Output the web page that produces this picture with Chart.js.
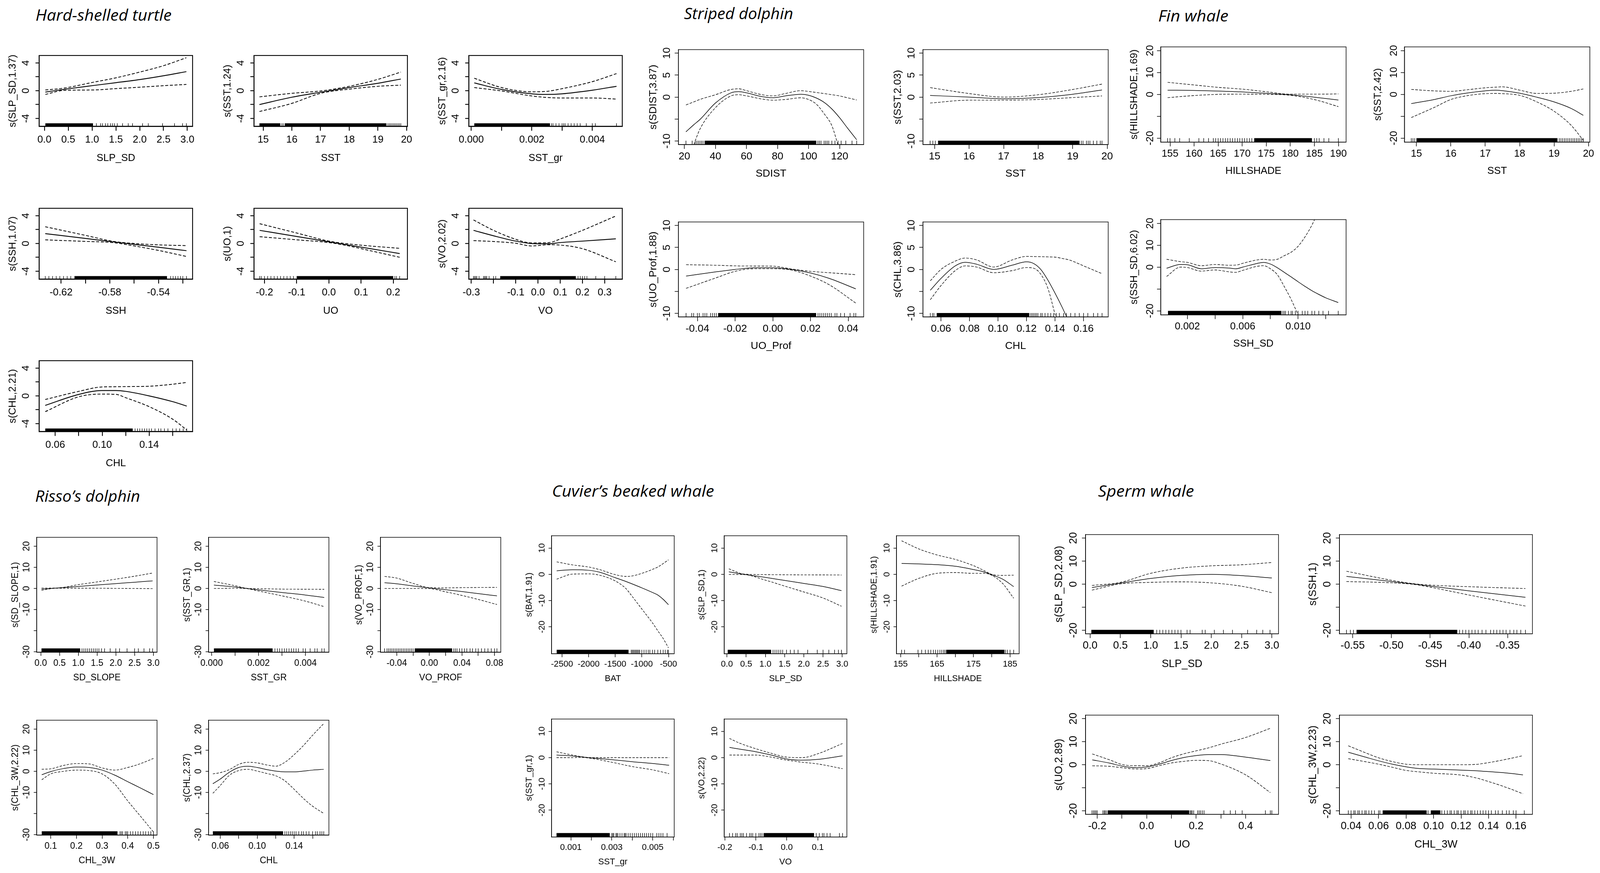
<!DOCTYPE html>
<html lang="en">
<head>
  <meta charset="UTF-8" />
  <title>GAM smooth terms by species</title>
  <script src="https://cdn.jsdelivr.net/npm/chart.js"></script>
  <style>
    html, body { margin: 0; padding: 0; background: #fff; overflow: hidden; }
    #page { position: relative; background: #fff; overflow: hidden; }
    .sp { position: absolute; font-family: "Open Sans", Lato, sans-serif; font-style: italic; line-height: 1; color: #000; white-space: nowrap; transform-origin: 0 0; }
    canvas { position: absolute; }
  </style>
</head>
<body>
<div id="page"></div>
<script>
// ---------- y tick values / labels per species group ----------
const yTicksTurtle = [-4, -2, 0, 2, 4],            yLabsTurtle = ['-4', '', '0', '', '4'];
const yTicksStriped = [-10, -5, 0, 5, 10],         yLabsStriped = ['-10', '', '0', '5', '10'];
const yTicksFin = [-20, -10, 0, 10, 20],           yLabsFin = ['-20', '', '0', '10', '20'];
const yTicksRisso = [-30, -20, -10, 0, 10, 20],    yLabsRisso = ['-30', '', '-10', '0', '10', '20'];
const yTicksCuvier = [-20, -10, 0, 10],            yLabsCuvier = ['-20', '-10', '0', '10'];
const yTicksSperm = [-20, -10, 0, 10, 20],         yLabsSperm = ['-20', '', '0', '10', '20'];

// ---------- x tick values / labels ----------
const xtSlp = [0, 0.5, 1, 1.5, 2, 2.5, 3],  xlSlp = ['0.0', '0.5', '1.0', '1.5', '2.0', '2.5', '3.0'];
const xtSst = [15, 16, 17, 18, 19, 20],     xlSst = ['15', '16', '17', '18', '19', '20'];
const xtTSstGr = [0, 0.001, 0.002, 0.003, 0.004], xlTSstGr = ['0.000', '', '0.002', '', '0.004'];
const xtTSsh = [-0.62, -0.60, -0.58, -0.56, -0.54, -0.52], xlTSsh = ['-0.62', '', '-0.58', '', '-0.54', ''];
const xtTUo = [-0.2, -0.1, 0, 0.1, 0.2],    xlTUo = ['-0.2', '-0.1', '0.0', '0.1', '0.2'];
const xtTVo = [-0.3, -0.2, -0.1, 0, 0.1, 0.2, 0.3], xlTVo = ['-0.3', '', '-0.1', '0.0', '0.1', '0.2', '0.3'];
const xtChlAlt = [0.06, 0.08, 0.10, 0.12, 0.14, 0.16], xlChlAlt = ['0.06', '', '0.10', '', '0.14', ''];
const xtSdist = [20, 40, 60, 80, 100, 120], xlSdist = ['20', '40', '60', '80', '100', '120'];
const xtUoProf = [-0.04, -0.02, 0, 0.02, 0.04], xlUoProf = ['-0.04', '-0.02', '0.00', '0.02', '0.04'];
const xtDChl = [0.06, 0.08, 0.10, 0.12, 0.14, 0.16], xlDChl = ['0.06', '0.08', '0.10', '0.12', '0.14', '0.16'];
const xtFHill = [155, 160, 165, 170, 175, 180, 185, 190], xlFHill = ['155', '160', '165', '170', '175', '180', '185', '190'];
const xtSshSd = [0.002, 0.004, 0.006, 0.008, 0.010, 0.012], xlSshSd = ['0.002', '', '0.006', '', '0.010', ''];
const xtRVoProf = [-0.04, -0.02, 0, 0.02, 0.04, 0.06, 0.08], xlRVoProf = ['-0.04', '', '0.00', '', '0.04', '', '0.08'];
const xtChl3w = [0.1, 0.2, 0.3, 0.4, 0.5],  xlChl3w = ['0.1', '0.2', '0.3', '0.4', '0.5'];
const xtBat = [-2500, -2000, -1500, -1000, -500], xlBat = ['-2500', '-2000', '-1500', '-1000', '-500'];
const xtCHill = [155, 160, 165, 170, 175, 180, 185], xlCHill = ['155', '', '165', '', '175', '', '185'];
const xtCSstGr = [0.001, 0.002, 0.003, 0.004, 0.005, 0.006], xlCSstGr = ['0.001', '', '0.003', '', '0.005', ''];
const xtCVo = [-0.2, -0.1, 0, 0.1],         xlCVo = ['-0.2', '-0.1', '0.0', '0.1'];
const xtSSsh = [-0.55, -0.50, -0.45, -0.40, -0.35], xlSSsh = ['-0.55', '-0.50', '-0.45', '-0.40', '-0.35'];
const xtSUo = [-0.2, -0.1, 0, 0.1, 0.2, 0.3, 0.4], xlSUo = ['-0.2', '', '0.0', '', '0.2', '', '0.4'];
const xtSChl3w = [0.04, 0.06, 0.08, 0.10, 0.12, 0.14, 0.16], xlSChl3w = ['0.04', '0.06', '0.08', '0.10', '0.12', '0.14', '0.16'];

// ---------- Hard-shelled turtle ----------
const tSlpX = [0.02, 0.42, 1.0, 1.5, 2.0, 2.5, 2.98];
const tSlpFit = [-0.2, 0.2, 0.72, 1.15, 1.6, 2.15, 2.75];
const tSlpHi = [0.1, 0.38, 1.18, 1.85, 2.68, 3.6, 4.75];
const tSlpLo = [-0.54, 0.05, 0.1, 0.3, 0.5, 0.72, 0.9];
const tSlpBand = [[0.02, 1.02]];
const tSlpRug = [1.09, 1.18, 1.22, 1.28, 1.33, 1.39, 1.43, 1.47, 1.53, 1.64, 1.76, 1.85, 2.06, 2.18, 2.48, 2.73, 2.9, 2.98];

const tSstX = [14.87, 16, 17, 18, 19, 19.8];
const tSstFit = [-2.0, -0.94, -0.22, 0.45, 1.07, 1.68];
const tSstHi = [-0.89, -0.38, -0.04, 0.63, 1.63, 2.68];
const tSstLo = [-3.0, -1.83, -0.38, 0.22, 0.63, 0.8];
const tSstBand = [[14.87, 15.6], [15.75, 19.3]];
const tSstRug = [15.65, 15.7, 19.35, 19.4, 19.45, 19.5, 19.55, 19.6, 19.65, 19.7, 19.75, 19.8];

const tSstGrX = [0.0001, 0.001, 0.002, 0.0025, 0.003, 0.004, 0.0048];
const tSstGrFit = [1.12, 0.18, -0.45, -0.54, -0.45, 0.07, 0.63];
const tSstGrHi = [1.79, 0.45, -0.16, -0.09, 0.29, 1.3, 2.46];
const tSstGrLo = [0.45, -0.04, -0.76, -0.98, -1.05, -1.05, -1.21];
const tSstGrBand = [[0.0001, 0.0026]];
const tSstGrRug = [0.00265, 0.0027, 0.0028, 0.0029, 0.003, 0.00305, 0.0031, 0.0032, 0.0033, 0.0034, 0.0035, 0.0036, 0.0038, 0.004, 0.0041, 0.0048];

const tSshX = [-0.633, -0.60, -0.577, -0.56, -0.54, -0.517];
const tSshFit = [1.42, 0.73, 0.23, -0.13, -0.54, -1.04];
const tSshHi = [2.41, 1.17, 0.30, 0.0, -0.2, -0.31];
const tSshLo = [0.52, 0.30, 0.12, -0.35, -1.0, -1.87];
const tSshBand = [[-0.609, -0.533]];
const tSshRug = [-0.633, -0.63, -0.627, -0.624, -0.621, -0.618, -0.615, -0.612, -0.53, -0.528, -0.526, -0.524, -0.522, -0.52, -0.517];

const tUoX = [-0.215, -0.1, 0.0, 0.05, 0.12, 0.22];
const tUoFit = [1.89, 1.01, 0.24, -0.14, -0.68, -1.45];
const tUoHi = [2.85, 1.51, 0.34, 0.0, -0.33, -0.7];
const tUoLo = [0.98, 0.53, 0.13, -0.25, -0.95, -1.99];
const tUoBand = [[-0.1, 0.2]];
const tUoRug = [-0.215, -0.21, -0.2, -0.19, -0.18, -0.17, -0.16, -0.15, -0.14, -0.13, -0.12, -0.11, 0.205, 0.21, 0.22];

const tVoX = [-0.29, -0.2, -0.1, -0.03, 0.05, 0.1, 0.2, 0.35];
const tVoFit = [1.89, 1.11, 0.34, 0.0, -0.05, 0.13, 0.34, 0.67];
const tVoHi = [3.39, 1.89, 0.6, 0.08, 0.13, 0.65, 1.89, 3.96];
const tVoLo = [0.41, 0.28, 0.03, -0.36, -0.18, -0.23, -0.75, -2.64];
const tVoBand = [[-0.17, 0.17]];
const tVoRug = [-0.29, -0.285, -0.28, -0.275, -0.265, -0.245, -0.24, -0.235, -0.23, -0.22, -0.2, -0.19, 0.18, 0.19, 0.2, 0.21, 0.22, 0.26, 0.3, 0.35];

const tChlX = [0.0515, 0.08, 0.10, 0.112, 0.12, 0.14, 0.16, 0.172];
const tChlFit = [-1.37, 0.21, 0.77, 0.77, 0.65, 0.0, -0.83, -1.47];
const tChlHi = [-0.52, 0.65, 1.29, 1.32, 1.34, 1.39, 1.68, 1.94];
const tChlLo = [-2.27, -0.13, 0.26, 0.21, -0.26, -1.55, -3.35, -4.9];
const tChlBand = [[0.0515, 0.126]];
const tChlRug = [0.128, 0.13, 0.132, 0.134, 0.136, 0.138, 0.14, 0.142, 0.145, 0.148, 0.15, 0.153, 0.156, 0.16, 0.163, 0.166, 0.169, 0.172];

// ---------- Striped dolphin ----------
const dSdistX = [21, 26, 30, 40, 50, 55, 60, 70, 77, 85, 95, 100, 105, 110, 115, 120, 125, 131];
const dSdistFit = [-7.9, -6.3, -5.1, -1.35, 0.97, 1.24, 0.97, 0.11, -0.16, 0.27, 0.65, 0.43, -0.2, -1.19, -2.7, -4.69, -7.0, -9.7];
const dSdistHi = [-1.78, -1.1, -0.54, 0.54, 1.73, 1.89, 1.46, 0.54, 0.27, 0.81, 1.46, 1.29, 1.05, 0.81, 0.55, 0.27, -0.15, -0.65];
const dSdistLo = [-16, -10.9, -7.3, -2.4, 0.27, 0.54, 0.27, -0.43, -0.7, -0.54, -0.16, -0.54, -1.6, -3.77, -6.5, -12.0, -16, -21];
const dSdistBand = [[33, 105]];
const dSdistRug = [21, 25, 27, 28, 29, 30, 31, 32, 106, 107, 108, 110, 111, 112, 113, 115, 117, 119, 121, 124, 128, 131];

const dSstX = [14.87, 16, 17, 18, 19, 19.85];
const dSstFit = [0.38, 0.0, -0.38, -0.11, 0.65, 1.62];
const dSstHi = [2.16, 0.81, 0.0, 0.54, 1.73, 2.96];
const dSstLo = [-1.35, -0.7, -0.7, -0.54, -0.11, 0.27];
const dSstBand = [[15.1, 19.2]];
const dSstRug = [14.87, 14.95, 15.02, 19.25, 19.3, 19.4, 19.45, 19.5, 19.6, 19.7, 19.8, 19.85];

const dUoProfX = [-0.046, -0.03, -0.02, -0.01, 0.0, 0.01, 0.02, 0.03, 0.044];
const dUoProfFit = [-1.51, -0.54, 0.0, 0.38, 0.38, 0.0, -0.81, -2.05, -4.42];
const dUoProfHi = [1.08, 0.95, 0.81, 0.78, 0.75, 0.1, -0.43, -0.75, -1.19];
const dUoProfLo = [-4.31, -1.89, -0.43, 0.16, 0.16, -0.15, -1.51, -3.5, -7.65];
const dUoProfBand = [[-0.029, 0.023]];
const dUoProfRug = [-0.046, -0.043, -0.042, -0.04, -0.039, -0.037, -0.036, -0.035, -0.033, -0.032, -0.031, -0.03, 0.024, 0.025, 0.026, 0.027, 0.028, 0.029, 0.03, 0.031, 0.033, 0.034, 0.036, 0.038, 0.041, 0.043, 0.044];

const dChlX = [0.0525, 0.06, 0.07, 0.077, 0.085, 0.097, 0.11, 0.12, 0.125, 0.13, 0.135, 0.14, 0.145, 0.15, 0.16, 0.173];
const dChlFit = [-4.74, -2.05, 0.81, 1.62, 1.19, 0.0, 0.97, 1.73, 1.35, 0.0, -2.43, -5.39, -8.6, -12.1, -19, -28];
const dChlHi = [-2.59, 0.0, 1.89, 2.59, 2.16, 0.54, 2.16, 2.96, 2.93, 2.91, 2.85, 2.8, 2.5, 2.16, 0.81, -0.97];
const dChlLo = [-6.9, -3.67, -0.27, 0.81, 0.54, -0.75, -0.27, 0.43, 0.27, -1.08, -4.31, -10.2, -16, -22, -33, -45];
const dChlBand = [[0.057, 0.122]];
const dChlRug = [0.0525, 0.054, 0.055, 0.123, 0.124, 0.125, 0.126, 0.127, 0.128, 0.13, 0.131, 0.133, 0.135, 0.137, 0.139, 0.141, 0.143, 0.146, 0.148, 0.151, 0.154, 0.157, 0.16, 0.163, 0.167, 0.17, 0.173];

// ---------- Fin whale ----------
const fHillX = [154.5, 160, 165, 170, 175, 180, 185, 190];
const fHillFit = [1.94, 1.8, 1.5, 1.1, 0.5, -0.2, -1.3, -2.6];
const fHillHi = [5.5, 4.3, 3.2, 2.4, 1.2, 0.1, 0.1, 0.2];
const fHillLo = [-1.5, -0.54, 0.0, 0.1, 0.0, -0.43, -2.37, -5.6];
const fHillBand = [[172.5, 184.5]];
const fHillRug = [154.5, 155, 156, 157, 159, 161, 162, 163, 164, 164.5, 165, 165.5, 166, 166.5, 167, 167.5, 168, 168.5, 169, 169.5, 170, 170.5, 171, 171.5, 172, 185, 185.5, 186, 187, 188, 190];

const fSstX = [14.85, 15.5, 16, 16.5, 17, 17.3, 17.5, 18, 18.5, 19, 19.5, 19.85];
const fSstFit = [-4.2, -2.4, -0.65, 0.65, 1.6, 1.94, 1.7, 0.54, -1.29, -3.44, -6.45, -9.57];
const fSstHi = [2.26, 1.6, 1.4, 2.15, 3.0, 3.3, 3.44, 1.94, 0.43, 0.54, 1.4, 2.47];
const fSstLo = [-10.6, -6.1, -2.37, -0.54, 0.32, 0.4, 0.32, -0.43, -3.44, -7.7, -14.2, -21];
const fSstBand = [[15.0, 19.1]];
const fSstRug = [14.85, 14.9, 14.95, 19.15, 19.2, 19.25, 19.3, 19.35, 19.4, 19.45, 19.5, 19.55, 19.6, 19.65, 19.7, 19.75, 19.8, 19.85];

const fSshSdX = [0.0005, 0.0015, 0.002, 0.003, 0.004, 0.005, 0.0055, 0.006, 0.007, 0.0075, 0.008, 0.0085, 0.009, 0.0095, 0.010, 0.0105, 0.011, 0.0115, 0.012, 0.0129];
const fSshSdFit = [-0.54, 1.19, 1.08, -0.76, -0.22, -0.43, -0.76, 0.0, 1.62, 2.16, 1.4, -0.3, -2.37, -4.5, -6.7, -8.8, -10.8, -12.5, -14.05, -16.2];
const fSshSdHi = [3.57, 2.49, 2.16, 0.65, 1.19, 0.86, 0.9, 1.73, 3.24, 3.57, 3.24, 3.57, 5.2, 6.8, 9.5, 13.8, 19.2, 26, 33, 45];
const fSshSdLo = [-4.3, 0.0, -0.2, -1.84, -1.3, -2.16, -2.4, -1.5, 0.3, 0.65, -0.76, -3.46, -8.86, -14.8, -21.8, -29, -36, -43, -50, -60];
const fSshSdBand = [[0.0006, 0.0088]];
const fSshSdRug = [0.0089, 0.009, 0.0091, 0.0093, 0.0095, 0.0096, 0.0098, 0.01, 0.0103, 0.0105, 0.0107, 0.011, 0.0112, 0.0115, 0.0118, 0.0122, 0.0129];

// ---------- Risso's dolphin ----------
const rSdSlopeX = [0.02, 0.4, 1.0, 1.5, 2.0, 2.5, 2.98];
const rSdSlopeFit = [-0.35, 0.16, 0.96, 1.62, 2.29, 2.95, 3.6];
const rSdSlopeHi = [0.19, 0.2, 1.8, 3.1, 4.4, 5.8, 7.3];
const rSdSlopeLo = [-0.89, 0.12, 0.12, 0.1, 0.05, 0.0, -0.1];
const rSdSlopeBand = [[0.02, 1.05]];
const rSdSlopeRug = [1.1, 1.15, 1.2, 1.25, 1.3, 1.35, 1.4, 1.45, 1.5, 1.55, 1.62, 1.7, 1.85, 2.0, 2.1, 2.3, 2.5, 2.6, 2.75, 2.9, 2.98];

const rSstGrX = [0.0001, 0.001, 0.0015, 0.002, 0.003, 0.004, 0.0048];
const rSstGrFit = [1.6, 0.7, 0.0, -0.65, -1.9, -3.1, -4.27];
const rSstGrHi = [3.3, 1.3, 0.1, -0.1, -0.3, -0.35, -0.4];
const rSstGrLo = [0.0, 0.1, -0.1, -1.2, -3.5, -6.0, -8.6];
const rSstGrBand = [[0.0001, 0.0026]];
const rSstGrRug = [0.0027, 0.0028, 0.0029, 0.003, 0.0031, 0.0032, 0.0033, 0.0034, 0.0035, 0.0036, 0.0037, 0.0039, 0.004, 0.0042, 0.0044, 0.0045, 0.0047, 0.0048];

const rVoProfX = [-0.055, -0.04, -0.02, 0.0, 0.02, 0.04, 0.06, 0.083];
const rVoProfFit = [2.7, 2.2, 1.2, 0.25, -0.6, -1.46, -2.44, -3.5];
const rVoProfHi = [5.7, 4.9, 2.4, 0.4, 0.25, 0.4, 0.45, 0.5];
const rVoProfLo = [0.0, 0.0, 0.0, -0.1, -1.6, -3.3, -5.2, -7.6];
const rVoProfBand = [[-0.018, 0.028]];
const rVoProfRug = [-0.055, -0.052, -0.05, -0.048, -0.046, -0.044, -0.042, -0.04, -0.038, -0.036, -0.034, -0.032, -0.03, -0.028, -0.026, -0.024, -0.022, -0.02, 0.03, 0.032, 0.034, 0.037, 0.04, 0.043, 0.046, 0.05, 0.053, 0.057, 0.06, 0.064, 0.068, 0.072, 0.076, 0.08, 0.083];

const rChl3wX = [0.065, 0.1, 0.15, 0.2, 0.25, 0.3, 0.35, 0.4, 0.45, 0.5];
const rChl3wFit = [-1.6, -0.1, 1.34, 2.07, 1.83, 0.6, -1.83, -4.9, -7.9, -11];
const rChl3wHi = [1.0, 1.2, 2.8, 3.7, 3.5, 1.6, 0.6, 1.83, 3.66, 6.1];
const rChl3wLo = [-4.0, -1.2, 0.0, 0.6, 0.37, -1.2, -6.1, -14, -21.3, -28.7];
const rChl3wBand = [[0.065, 0.36]];
const rChl3wRug = [0.37, 0.375, 0.38, 0.39, 0.395, 0.4, 0.41, 0.42, 0.43, 0.44, 0.45, 0.46, 0.47, 0.48, 0.49, 0.5];

const rChlX = [0.052, 0.06, 0.07, 0.08, 0.09, 0.10, 0.11, 0.12, 0.13, 0.14, 0.15, 0.16, 0.172];
const rChlFit = [-5.85, -3.66, -0.37, 1.83, 2.44, 1.83, 0.85, 0.12, -0.24, -0.24, 0.12, 0.6, 0.97];
const rChlHi = [-1.2, -0.6, 0.85, 3.3, 4.3, 4.0, 3.05, 2.44, 4.3, 7.9, 12.2, 17.1, 22.6];
const rChlLo = [-10.4, -6.7, -1.83, 0.37, 0.97, 0.12, -0.97, -2.07, -4.5, -8.5, -12.8, -16.5, -19.9];
const rChlBand = [[0.052, 0.128]];
const rChlRug = [0.13, 0.132, 0.134, 0.136, 0.138, 0.14, 0.142, 0.145, 0.148, 0.15, 0.153, 0.156, 0.16, 0.163, 0.165, 0.168, 0.17, 0.172];

// ---------- Cuvier's beaked whale ----------
const cBatX = [-2600, -2300, -2000, -1800, -1500, -1300, -1200, -1000, -800, -700, -600, -500];
const cBatFit = [1.36, 1.75, 1.55, 0.87, -1.26, -2.7, -3.5, -5.15, -6.9, -7.86, -9.5, -11.55];
const cBatHi = [4.76, 3.6, 2.8, 1.84, -0.1, -0.78, -0.68, 0.39, 1.9, 2.8, 4.1, 5.53];
const cBatLo = [-1.84, 0.1, 0.19, -0.29, -2.5, -5.4, -7.9, -13.2, -18.5, -21.5, -24.4, -28];
const cBatBand = [[-2600, -1250]];
const cBatRug = [-1200, -1180, -1160, -1140, -1120, -1100, -1080, -1060, -1040, -1000, -960, -920, -880, -850, -800, -760, -700, -650, -600, -560, -520, -500];

const cSlpX = [0.05, 0.45, 1.0, 1.5, 2.0, 2.5, 2.98];
const cSlpFit = [0.97, 0.0, -1.15, -2.3, -3.45, -4.6, -6.2];
const cSlpHi = [2.1, 0.1, -0.1, -0.15, -0.2, -0.22, -0.25];
const cSlpLo = [-0.05, -0.1, -2.2, -4.45, -6.7, -9.0, -12.15];
const cSlpBand = [[0.02, 1.15]];
const cSlpRug = [1.2, 1.25, 1.3, 1.35, 1.4, 1.45, 1.55, 1.65, 1.75, 1.85, 2.1, 2.35, 2.5, 2.65, 2.8, 2.9, 2.98];

const cHillX = [155.3, 160, 165, 170, 175, 178, 180, 183, 186];
const cHillFit = [4.17, 3.98, 3.7, 3.1, 1.84, 0.87, -0.15, -1.84, -4.66];
const cHillHi = [12.8, 9.7, 7.4, 5.7, 3.3, 1.36, 0.0, -0.4, -0.3];
const cHillLo = [-4.47, -1.55, 0.39, 0.68, 0.39, 0.39, -0.35, -3.5, -9.1];
const cHillBand = [[167.5, 183.5]];
const cHillRug = [155.3, 156.1, 159.8, 160.8, 161.8, 162.6, 163.3, 164, 164.6, 165.2, 165.8, 166.3, 166.8, 167.2, 183.8, 184.3, 185, 186];

const cSstGrX = [0.0003, 0.001, 0.0015, 0.002, 0.003, 0.004, 0.005, 0.0058];
const cSstGrFit = [0.97, 0.68, 0.3, -0.1, -0.78, -1.55, -2.23, -2.9];
const cSstGrHi = [2.23, 1.1, 0.4, 0.0, 0.0, 0.0, 0.0, 0.0];
const cSstGrLo = [0.0, 0.0, 0.1, -0.3, -1.75, -3.4, -4.66, -6.1];
const cSstGrBand = [[0.0003, 0.0029]];
const cSstGrRug = [0.003, 0.00305, 0.0031, 0.0032, 0.00325, 0.0033, 0.0034, 0.0035, 0.0036, 0.00365, 0.0037, 0.0038, 0.0039, 0.004, 0.0041, 0.0042, 0.0043, 0.0044, 0.0045, 0.0046, 0.0047, 0.0048, 0.0049, 0.005, 0.0052, 0.0053, 0.0054, 0.0055, 0.0057];

const cVoX = [-0.185, -0.15, -0.1, -0.05, 0.0, 0.05, 0.1, 0.18];
const cVoFit = [3.9, 3.2, 2.23, 0.97, -0.5, -0.97, -0.68, 0.68];
const cVoHi = [7.3, 5.4, 3.4, 1.65, 0.19, 0.0, 1.46, 5.4];
const cVoLo = [0.97, 0.97, 0.97, 0.19, -0.97, -1.75, -2.4, -4.2];
const cVoBand = [[-0.075, 0.088]];
const cVoRug = [-0.185, -0.175, -0.165, -0.16, -0.15, -0.145, -0.14, -0.13, -0.12, -0.115, -0.11, -0.1, -0.09, -0.085, -0.08, 0.095, 0.105, 0.115, 0.12, 0.13, 0.14, 0.17, 0.18];

// ---------- Sperm whale ----------
const sSlpX = [0.03, 0.5, 1.0, 1.5, 2.0, 2.5, 3.0];
const sSlpFit = [-1.46, 0.45, 2.46, 3.8, 4.25, 3.7, 2.69];
const sSlpHi = [-0.56, 0.78, 4.7, 6.94, 7.95, 8.4, 9.4];
const sSlpLo = [-2.58, 0.11, 0.78, 1.0, 0.56, -0.9, -3.7];
const sSlpBand = [[0.02, 1.05]];
const sSlpRug = [1.1, 1.15, 1.2, 1.25, 1.3, 1.35, 1.4, 1.45, 1.5, 1.6, 1.65, 1.85, 1.9, 2.05, 2.2, 2.35, 2.6, 2.75, 2.85, 2.97];

const sSshX = [-0.558, -0.50, -0.47, -0.45, -0.40, -0.327];
const sSshFit = [3.36, 1.15, 0.0, -0.85, -2.9, -5.7];
const sSshHi = [5.6, 1.7, 0.15, -0.4, -1.1, -1.9];
const sSshLo = [1.12, 0.6, -0.15, -1.3, -4.7, -9.5];
const sSshBand = [[-0.545, -0.415]];
const sSshRug = [-0.558, -0.553, -0.549, -0.412, -0.408, -0.404, -0.4, -0.396, -0.392, -0.388, -0.383, -0.378, -0.372, -0.368, -0.364, -0.36, -0.356, -0.352, -0.347, -0.342, -0.338, -0.333, -0.327];

const sUoX = [-0.22, -0.15, -0.1, -0.04, 0.0, 0.05, 0.1, 0.15, 0.2, 0.25, 0.3, 0.4, 0.5];
const sUoFit = [2.1, 0.7, -0.6, -1.3, -1.0, 0.2, 1.8, 3.1, 3.95, 4.4, 4.4, 3.3, 1.8];
const sUoHi = [4.67, 2.1, 0.1, -0.45, -0.45, 0.8, 3.0, 4.7, 6.0, 7.3, 8.9, 11.8, 15.8];
const sUoLo = [-0.46, -0.7, -1.3, -1.88, -1.7, -0.45, 0.75, 1.45, 1.9, 1.75, 0.3, -4.4, -12.1];
const sUoBand = [[-0.158, 0.172]];
const sUoRug = [-0.221, -0.215, -0.21, -0.205, -0.2, -0.177, -0.172, -0.168, -0.163, 0.176, 0.18, 0.184, 0.19, 0.206, 0.212, 0.218, 0.225, 0.232, 0.312, 0.338, 0.359, 0.386, 0.48, 0.5, 0.506];

const sChl3wX = [0.038, 0.05, 0.06, 0.07, 0.08, 0.09, 0.10, 0.12, 0.13, 0.14, 0.155, 0.165];
const sChl3wFit = [5.4, 3.37, 1.69, 0.22, -0.9, -1.69, -1.9, -2.36, -2.6, -3.0, -3.7, -4.4];
const sChl3wHi = [8.2, 5.3, 3.0, 1.35, 0.22, 0.0, 0.0, 0.0, 0.1, 0.9, 2.6, 3.93];
const sChl3wLo = [2.6, 1.35, 0.22, -1.12, -2.47, -3.15, -3.7, -4.5, -5.6, -7.3, -10.3, -12.6];
const sChl3wBand = [[0.063, 0.095], [0.098, 0.105]];
const sChl3wRug = [0.038, 0.04, 0.042, 0.043, 0.045, 0.046, 0.048, 0.05, 0.051, 0.053, 0.055, 0.057, 0.06, 0.061, 0.096, 0.106, 0.108, 0.11, 0.112, 0.113, 0.115, 0.117, 0.118, 0.12, 0.122, 0.123, 0.125, 0.127, 0.128, 0.13, 0.132, 0.134, 0.136, 0.138, 0.14, 0.142, 0.145, 0.147, 0.15, 0.153, 0.155, 0.158, 0.16, 0.166];

// ---------- layout and style, in reference pixels (4834 x 2234) ----------
const groups = {
  turtle:  { w: 464, h: 182, yMin: -5.15, yMax: 5.07, yt: yTicksTurtle,  yl: yLabsTurtle,  tick: 28, title: 28, tl: 11, xLab: 34, xTit: 81, yLab: 39, yTit: 80, lw: 2.2, box: 2.2, dash: [9, 5], rug: 8 },
  striped: { w: 560, h: 243, yMin: -10.8, yMax: 10.8, yt: yTicksStriped, yl: yLabsStriped, tick: 29, title: 29, tl: 11, xLab: 31, xTit: 75, yLab: 34, yTit: 75, lw: 1.5, box: 1.5, dash: [8, 4], rug: 10 },
  fin:     { w: 560, h: 244, yMin: -21.8, yMax: 21.7, yt: yTicksFin,     yl: yLabsFin,     tick: 28, title: 28, tl: 11, xLab: 30, xTit: 74, yLab: 31, yTit: 80, lw: 1.5, box: 1.5, dash: [8, 4], rug: 10 },
  risso:   { w: 364, h: 294, yMin: -30.2, yMax: 24.2, yt: yTicksRisso,   yl: yLabsRisso,   tick: 25, title: 25, tl: 9,  xLab: 28, xTit: 65, yLab: 30, yTit: 64, lw: 1.5, box: 1.5, dash: [7, 4], rug: 10 },
  cuvier:  { w: 371, h: 302, yMin: -30.2, yMax: 14.7, yt: yTicksCuvier,  yl: yLabsCuvier,  tick: 24, title: 24, tl: 9,  xLab: 27, xTit: 64, yLab: 29, yTit: 67, lw: 1.5, box: 1.5, dash: [7, 4], rug: 10 },
  sperm:   { w: 583, h: 254, yMin: -21.5, yMax: 21.5, yt: yTicksSperm,   yl: yLabsSperm,   tick: 29.5, title: 29.5, tl: 11, xLab: 31, xTit: 78, yLab: 36, yTit: 80, lw: 1.5, box: 1.5, dash: [8, 4], rug: 10 }
};

const titles = [
  { text: 'Hard-shelled turtle', left: 107, capTop: 25, width: 411 },
  { text: 'Striped dolphin', left: 2067, capTop: 21, width: 330 },
  { text: 'Fin whale', left: 3499, capTop: 27, width: 212 },
  { text: 'Risso\u2019s dolphin', left: 106, capTop: 1256, width: 317 },
  { text: 'Cuvier\u2019s beaked whale', left: 1667, capTop: 1243, width: 490 },
  { text: 'Sperm whale', left: 3317, capTop: 1243, width: 290 }
];

const panels = [
  { g: 'turtle', left: 118, top: 142, xr: [-0.11, 3.11], xt: xtSlp, xl: xlSlp, xTitle: 'SLP_SD', yTitle: 's(SLP_SD,1.37)', x: tSlpX, fit: tSlpFit, hi: tSlpHi, lo: tSlpLo, band: tSlpBand, rug: tSlpRug },
  { g: 'turtle', left: 768, top: 142, xr: [14.68, 20.03], xt: xtSst, xl: xlSst, xTitle: 'SST', yTitle: 's(SST,1.24)', x: tSstX, fit: tSstFit, hi: tSstHi, lo: tSstLo, band: tSstBand, rug: tSstRug },
  { g: 'turtle', left: 1417, top: 142, xr: [-0.00008, 0.00499], xt: xtTSstGr, xl: xlTSstGr, xTitle: 'SST_gr', yTitle: 's(SST_gr,2.16)', x: tSstGrX, fit: tSstGrFit, hi: tSstGrHi, lo: tSstGrLo, band: tSstGrBand, rug: tSstGrRug },
  { g: 'turtle', left: 118, top: 533, xr: [-0.638, -0.512], xt: xtTSsh, xl: xlTSsh, xTitle: 'SSH', yTitle: 's(SSH,1.07)', x: tSshX, fit: tSshFit, hi: tSshHi, lo: tSshLo, band: tSshBand, rug: tSshRug },
  { g: 'turtle', left: 768, top: 533, xr: [-0.2325, 0.244], xt: xtTUo, xl: xlTUo, xTitle: 'UO', yTitle: 's(UO,1)', x: tUoX, fit: tUoFit, hi: tUoHi, lo: tUoLo, band: tUoBand, rug: tUoRug },
  { g: 'turtle', left: 1417, top: 533, xr: [-0.311, 0.379], xt: xtTVo, xl: xlTVo, xTitle: 'VO', yTitle: 's(VO,2.02)', x: tVoX, fit: tVoFit, hi: tVoHi, lo: tVoLo, band: tVoBand, rug: tVoRug },
  { g: 'turtle', left: 118, top: 923, xr: [0.0463, 0.177], xt: xtChlAlt, xl: xlChlAlt, xTitle: 'CHL', yTitle: 's(CHL,2.21)', x: tChlX, fit: tChlFit, hi: tChlHi, lo: tChlLo, band: tChlBand, rug: tChlRug },

  { g: 'striped', left: 2050, top: 127, xr: [16.1, 135.5], xt: xtSdist, xl: xlSdist, xTitle: 'SDIST', yTitle: 's(SDIST,3.87)', x: dSdistX, fit: dSdistFit, hi: dSdistHi, lo: dSdistLo, band: dSdistBand, rug: dSdistRug },
  { g: 'striped', left: 2788, top: 127, xr: [14.66, 20.03], xt: xtSst, xl: xlSst, xTitle: 'SST', yTitle: 's(SST,2.03)', x: dSstX, fit: dSstFit, hi: dSstHi, lo: dSstLo, band: dSstBand, rug: dSstRug },
  { g: 'striped', left: 2050, top: 568, xr: [-0.0501, 0.0482], xt: xtUoProf, xl: xlUoProf, xTitle: 'UO_Prof', yTitle: 's(UO_Prof,1.88)', x: dUoProfX, fit: dUoProfFit, hi: dUoProfHi, lo: dUoProfLo, band: dUoProfBand, rug: dUoProfRug },
  { g: 'striped', left: 2788, top: 568, xr: [0.0473, 0.1773], xt: xtDChl, xl: xlDChl, xTitle: 'CHL', yTitle: 's(CHL,3.86)', x: dChlX, fit: dChlFit, hi: dChlHi, lo: dChlLo, band: dChlBand, rug: dChlRug },

  { g: 'fin', left: 3507, top: 120, xr: [153.05, 191.6], xt: xtFHill, xl: xlFHill, xTitle: 'HILLSHADE', yTitle: 's(HILLSHADE,1.69)', x: fHillX, fit: fHillFit, hi: fHillHi, lo: fHillLo, band: fHillBand, rug: fHillRug },
  { g: 'fin', left: 4243, top: 120, xr: [14.65, 20.04], xt: xtSst, xl: xlSst, xTitle: 'SST', yTitle: 's(SST,2.42)', x: fSstX, fit: fSstFit, hi: fSstHi, lo: fSstLo, band: fSstBand, rug: fSstRug },
  { g: 'fin', left: 3507, top: 562, xr: [0.00007, 0.01347], xt: xtSshSd, xl: xlSshSd, xTitle: 'SSH_SD', yTitle: 's(SSH_SD,6.02)', x: fSshSdX, fit: fSshSdFit, hi: fSshSdHi, lo: fSshSdLo, band: fSshSdBand, rug: fSshSdRug },

  { g: 'risso', left: 111, top: 1375, xr: [-0.107, 3.098], xt: xtSlp, xl: xlSlp, xTitle: 'SD_SLOPE', yTitle: 's(SD_SLOPE,1)', x: rSdSlopeX, fit: rSdSlopeFit, hi: rSdSlopeHi, lo: rSdSlopeLo, band: rSdSlopeBand, rug: rSdSlopeRug },
  { g: 'risso', left: 630, top: 1375, xr: [-0.000127, 0.005], xt: xtTSstGr, xl: xlTSstGr, xTitle: 'SST_GR', yTitle: 's(SST_GR,1)', x: rSstGrX, fit: rSstGrFit, hi: rSstGrHi, lo: rSstGrLo, band: rSstGrBand, rug: rSstGrRug },
  { g: 'risso', left: 1150, top: 1375, xr: [-0.06, 0.0877], xt: xtRVoProf, xl: xlRVoProf, xTitle: 'VO_PROF', yTitle: 's(VO_PROF,1)', x: rVoProfX, fit: rVoProfFit, hi: rVoProfHi, lo: rVoProfLo, band: rVoProfBand, rug: rVoProfRug },
  { g: 'risso', left: 111, top: 1843, xr: [0.0455, 0.514], xt: xtChl3w, xl: xlChl3w, xTitle: 'CHL_3W', yTitle: 's(CHL_3W,2.22)', x: rChl3wX, fit: rChl3wFit, hi: rChl3wHi, lo: rChl3wLo, band: rChl3wBand, rug: rChl3wRug },
  { g: 'risso', left: 630, top: 1843, xr: [0.0474, 0.1776], xt: xtChlAlt, xl: xlChlAlt, xTitle: 'CHL', yTitle: 's(CHL,2.37)', x: rChlX, fit: rChlFit, hi: rChlHi, lo: rChlLo, band: rChlBand, rug: rChlRug },

  { g: 'cuvier', left: 1667, top: 1371, xr: [-2696, -392], xt: xtBat, xl: xlBat, xTitle: 'BAT', yTitle: 's(BAT,1.91)', x: cBatX, fit: cBatFit, hi: cBatHi, lo: cBatLo, band: cBatBand, rug: cBatRug },
  { g: 'cuvier', left: 2188, top: 1371, xr: [-0.07, 3.12], xt: xtSlp, xl: xlSlp, xTitle: 'SLP_SD', yTitle: 's(SLP_SD,1)', x: cSlpX, fit: cSlpFit, hi: cSlpHi, lo: cSlpLo, band: cSlpBand, rug: cSlpRug },
  { g: 'cuvier', left: 2708, top: 1371, xr: [153.9, 187.5], xt: xtCHill, xl: xlCHill, xTitle: 'HILLSHADE', yTitle: 's(HILLSHADE,1.91)', x: cHillX, fit: cHillFit, hi: cHillHi, lo: cHillLo, band: cHillBand, rug: cHillRug },
  { g: 'cuvier', left: 1667, top: 1840, xr: [0.000058, 0.00605], xt: xtCSstGr, xl: xlCSstGr, xTitle: 'SST_gr', yTitle: 's(SST_gr,1)', x: cSstGrX, fit: cSstGrFit, hi: cSstGrHi, lo: cSstGrLo, band: cSstGrBand, rug: cSstGrRug },
  { g: 'cuvier', left: 2188, top: 1840, xr: [-0.202, 0.194], xt: xtCVo, xl: xlCVo, xTitle: 'VO', yTitle: 's(VO,2.22)', x: cVoX, fit: cVoFit, hi: cVoHi, lo: cVoLo, band: cVoBand, rug: cVoRug },

  { g: 'sperm', left: 3280, top: 1368, xr: [-0.075, 3.11], xt: xtSlp, xl: xlSlp, xTitle: 'SLP_SD', yTitle: 's(SLP_SD,2.08)', x: sSlpX, fit: sSlpFit, hi: sSlpHi, lo: sSlpLo, band: sSlpBand, rug: sSlpRug },
  { g: 'sperm', left: 4047, top: 1368, xr: [-0.567, -0.318], xt: xtSSsh, xl: xlSSsh, xTitle: 'SSH', yTitle: 's(SSH,1)', x: sSshX, fit: sSshFit, hi: sSshHi, lo: sSshLo, band: sSshBand, rug: sSshRug },
  { g: 'sperm', left: 3280, top: 1830, xr: [-0.247, 0.533], xt: xtSUo, xl: xlSUo, xTitle: 'UO', yTitle: 's(UO,2.89)', x: sUoX, fit: sUoFit, hi: sUoHi, lo: sUoLo, band: sUoBand, rug: sUoRug },
  { g: 'sperm', left: 4047, top: 1830, xr: [0.0316, 0.1719], xt: xtSChl3w, xl: xlSChl3w, xTitle: 'CHL_3W', yTitle: 's(CHL_3W,2.23)', x: sChl3wX, fit: sChl3wFit, hi: sChl3wHi, lo: sChl3wLo, band: sChl3wBand, rug: sChl3wRug }
];

// ---------- drawing ----------
const FAM = '"Liberation Sans", Arial, sans-serif';
const REF_W = 4834, REF_H = 2234;
const page = document.getElementById('page');
// map reference pixels onto whatever the window really is
const SX = window.innerWidth / REF_W;
const SY = window.innerHeight / REF_H;
const SF = Math.sqrt(SX * SY);          // font scale
page.style.width = window.innerWidth + 'px';
page.style.height = window.innerHeight + 'px';

const measureCtx = document.createElement('canvas').getContext('2d');
const pts = (xs, ys) => xs.map((x, i) => ({ x: x, y: ys[i] }));
function bandPts(bands, y) {
  const out = [];
  bands.forEach(([a, b]) => { out.push({ x: a, y: y }, { x: b, y: y }, { x: b, y: null }); });
  return out;
}

// plot box, as R draws it
const boxPlugin = {
  id: 'box',
  afterDraw(chart, args, opts) {
    const { ctx, chartArea: a } = chart;
    ctx.save();
    ctx.strokeStyle = '#000';
    ctx.lineWidth = opts.width || 1.5;
    ctx.strokeRect(a.left, a.top, a.right - a.left, a.bottom - a.top);
    ctx.restore();
  }
};

// species headings (Open Sans italic: cap top ~0.174 em below the line box top)
titles.forEach(t => {
  const size = 40 * SY;
  const d = document.createElement('div');
  d.className = 'sp';
  d.textContent = t.text;
  d.style.fontSize = size + 'px';
  d.style.left = (t.left * SX) + 'px';
  d.style.top = (t.capTop * SY - 0.174 * size) + 'px';
  page.appendChild(d);
  const natural = d.getBoundingClientRect().width;
  d.style.transform = 'scaleX(' + (t.width * SX / natural) + ')';
});

function makePanel(p) {
  const g = groups[p.g];
  const fTick = g.tick * SF, fTitle = g.title * SF;
  const tlx = g.tl * SY, tly = g.tl * SX;
  const boxW = g.w * SX, boxH = g.h * SY;
  const yAxisW = g.yTit * SX + 0.6 * fTitle;
  const xAxisH = g.xTit * SY + 0.6 * fTitle;
  const padT = 50, padR = 60;
  const W = Math.round(yAxisW + boxW + padR);
  const H = Math.round(padT + boxH + xAxisH);

  const cv = document.createElement('canvas');
  cv.width = W; cv.height = H;
  cv.style.left = (p.left * SX - yAxisW) + 'px';
  cv.style.top = (p.top * SY - padT) + 'px';
  page.appendChild(cv);

  measureCtx.font = fTick + 'px ' + FAM;
  const widest = Math.max(...g.yl.map(s => measureCtx.measureText(s).width));
  const rugPx = g.rug * SY;
  const rugY = g.yMin + (g.rug / 2) * (g.yMax - g.yMin) / g.h;
  const dash = g.dash.map(v => v * SX);

  const curve = {
    borderColor: '#000', pointRadius: 0, fill: false,
    cubicInterpolationMode: 'monotone', clip: 0
  };

  new Chart(cv, {
    type: 'line',
    data: {
      datasets: [
        Object.assign({ data: pts(p.x, p.hi), borderWidth: g.lw * 0.9, borderDash: dash }, curve),
        Object.assign({ data: pts(p.x, p.lo), borderWidth: g.lw * 0.9, borderDash: dash }, curve),
        Object.assign({ data: pts(p.x, p.fit), borderWidth: g.lw }, curve),
        { data: bandPts(p.band, rugY), borderColor: '#000', borderWidth: rugPx, borderCapStyle: 'butt',
          pointRadius: 0, tension: 0, spanGaps: false, fill: false },
        { data: p.rug.map(x => ({ x: x, y: rugY })), showLine: false, pointStyle: 'line',
          pointRadius: rugPx / 2, pointRotation: 90, pointBorderWidth: 1.4, pointBorderColor: '#000' }
      ]
    },
    options: {
      responsive: false,
      animation: false,
      devicePixelRatio: window.devicePixelRatio || 1,
      events: [],
      layout: { padding: { top: padT, right: padR, left: 0, bottom: 0 } },
      plugins: { legend: { display: false }, tooltip: { enabled: false }, box: { width: g.box } },
      scales: {
        x: {
          type: 'linear', position: 'bottom', min: p.xr[0], max: p.xr[1],
          afterBuildTicks: s => { s.ticks = p.xt.map(v => ({ value: v })); },
          afterFit: s => { s.height = xAxisH; },
          ticks: {
            autoSkip: false, maxRotation: 0, minRotation: 0, color: '#000',
            font: { family: FAM, size: fTick },
            padding: g.xLab * SY - tlx - 0.6 * fTick,
            callback: (v, i) => p.xl[i]
          },
          grid: { drawOnChartArea: false, drawTicks: true, tickLength: tlx, color: '#000', lineWidth: g.box },
          border: { display: true, color: '#000', width: g.box },
          title: { display: true, text: p.xTitle, color: '#000', font: { family: FAM, size: fTitle }, padding: 0 }
        },
        y: {
          type: 'linear', position: 'left', min: g.yMin, max: g.yMax,
          afterBuildTicks: s => { s.ticks = g.yt.map(v => ({ value: v })); },
          afterFit: s => { s.width = yAxisW; },
          ticks: {
            autoSkip: false, minRotation: 90, maxRotation: 90, crossAlign: 'center', color: '#000',
            font: { family: FAM, size: fTick },
            padding: g.yLab * SX - tly - widest / 2,
            callback: (v, i) => g.yl[i]
          },
          grid: { drawOnChartArea: false, drawTicks: true, tickLength: tly, color: '#000', lineWidth: g.box },
          border: { display: true, color: '#000', width: g.box },
          title: { display: true, text: p.yTitle, color: '#000', font: { family: FAM, size: fTitle }, padding: 0 }
        }
      }
    },
    plugins: [boxPlugin]
  });
}

panels.forEach(makePanel);
</script>
</body>
</html>
